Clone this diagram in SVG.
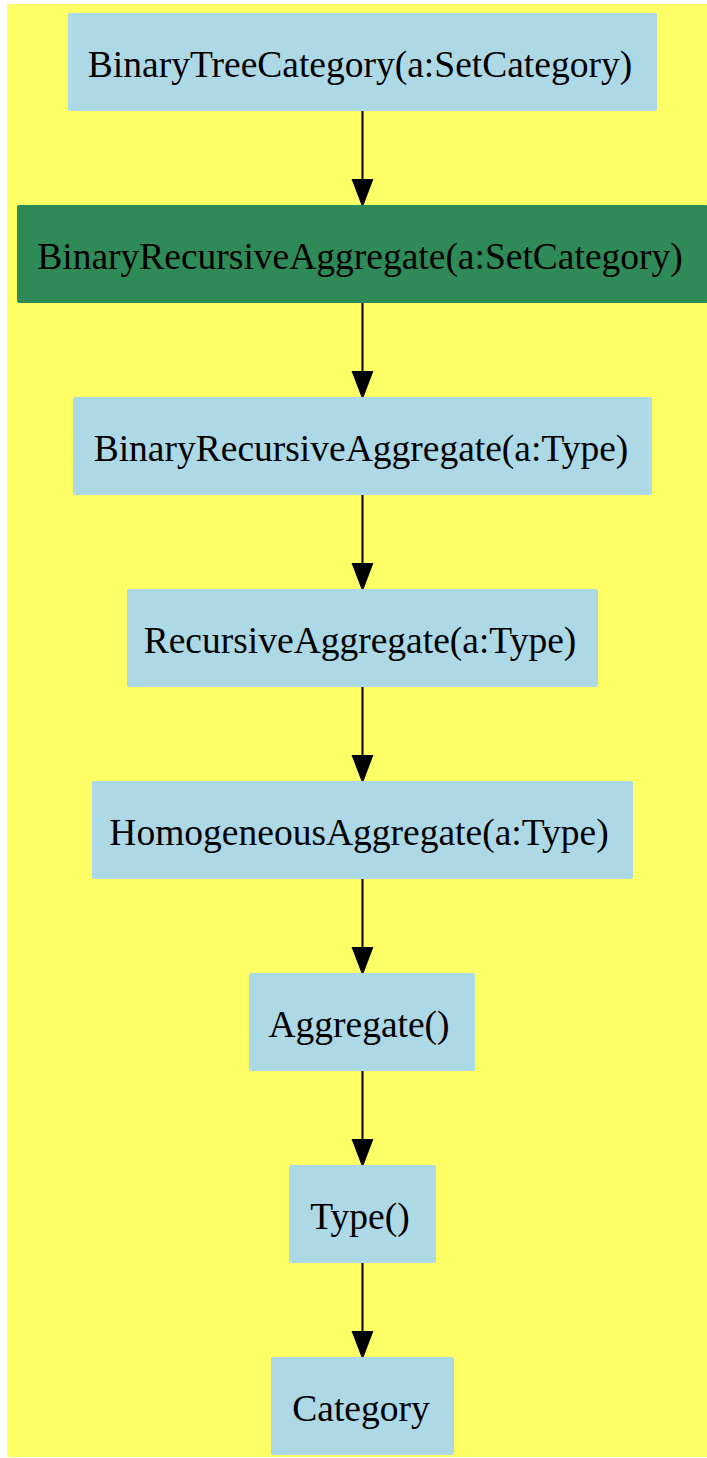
<svg xmlns="http://www.w3.org/2000/svg" width="707" height="1458" viewBox="0 0 707 1458">
<style>
.n{fill:#add8e6}
.g{fill:#2e8b57}
.t{font-family:"Liberation Serif","Times New Roman",serif;font-size:37.5px;fill:#000;text-anchor:middle}
.e{stroke:#000;stroke-width:2;fill:none}
.h{fill:#000;stroke:#000;stroke-width:2}
</style>
<rect x="7" y="4" width="700" height="1453" fill="#ffff66"/>
<g id="edges">
<path class="e" d="M362.5 111V180"/><polygon class="h" points="353,180 372,180 362.5,205"/>
<path class="e" d="M362.5 303V372"/><polygon class="h" points="353,372 372,372 362.5,397"/>
<path class="e" d="M362.5 495V564"/><polygon class="h" points="353,564 372,564 362.5,589"/>
<path class="e" d="M362.5 687V756"/><polygon class="h" points="353,756 372,756 362.5,781"/>
<path class="e" d="M362.5 879V948"/><polygon class="h" points="353,948 372,948 362.5,973"/>
<path class="e" d="M362.5 1071V1140"/><polygon class="h" points="353,1140 372,1140 362.5,1165"/>
<path class="e" d="M362.5 1263V1332"/><polygon class="h" points="353,1332 372,1332 362.5,1357"/>
</g>
<g id="n1"><rect class="n" x="68" y="13" width="589" height="98" rx="2"/><text class="t" x="360" y="77">BinaryTreeCategory(a:SetCategory)</text></g>
<g id="n2"><rect class="g" x="17" y="205" width="691" height="98" rx="2"/><text class="t" x="360" y="269">BinaryRecursiveAggregate(a:SetCategory)</text></g>
<g id="n3"><rect class="n" x="73" y="397" width="579" height="98" rx="2"/><text class="t" x="361" y="461">BinaryRecursiveAggregate(a:Type)</text></g>
<g id="n4"><rect class="n" x="127" y="589" width="471" height="98" rx="2"/><text class="t" x="360" y="653">RecursiveAggregate(a:Type)</text></g>
<g id="n5"><rect class="n" x="92" y="781" width="541" height="98" rx="2"/><text class="t" x="359" y="845">HomogeneousAggregate(a:Type)</text></g>
<g id="n6"><rect class="n" x="249" y="973" width="226" height="98" rx="2"/><text class="t" x="359" y="1037">Aggregate()</text></g>
<g id="n7"><rect class="n" x="289" y="1165" width="147" height="98" rx="2"/><text class="t" x="360" y="1229">Type()</text></g>
<g id="n8"><rect class="n" x="271" y="1357" width="183" height="98" rx="2"/><text class="t" x="361" y="1421">Category</text></g>
</svg>
